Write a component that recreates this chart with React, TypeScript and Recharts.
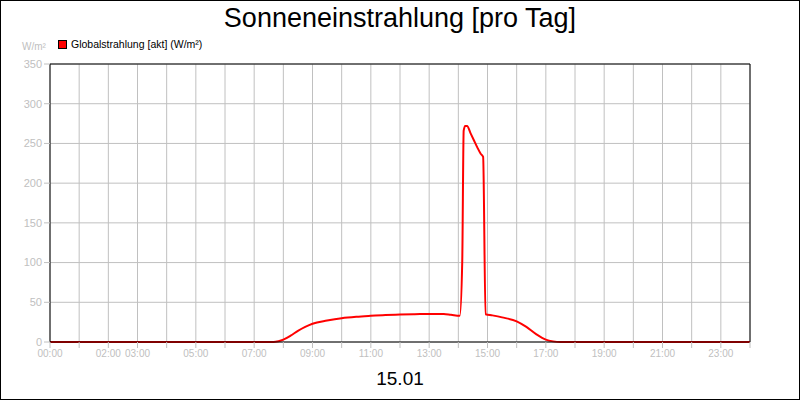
import React from "react";
import {
  LineChart,
  Line,
  XAxis,
  YAxis,
  CartesianGrid,
  ReferenceLine,
} from "recharts";

// time in minutes since 00:00
const times: number[] = [
  0, 420, 460, 470, 480, 495, 510, 525, 540, 570, 600, 630, 660, 690, 720, 750, 780,
  795, 810, 825, 843, 848, 851, 854, 858, 865, 872, 879, 886, 891, 896, 910, 930, 960,
  980, 1000, 1020, 1035, 1050, 1440,
];
const values: number[] = [
  0, 0, 0, 1, 3, 8, 14, 19, 23, 27, 30, 31.8, 33, 34, 34.6, 35, 35.3,
  35.4, 35.2, 34.2, 33, 100, 266, 272, 272, 263, 254, 245, 237, 233, 35, 33.5, 31, 26,
  19, 10, 3, 0.8, 0, 0,
];

const hourTicks: number[] = Array.from({ length: 25 }, (_, i) => i * 60);
const hourLabels: string[] = [
  "00:00", "", "02:00", "03:00", "", "05:00", "", "07:00", "", "09:00", "", "11:00", "",
  "13:00", "", "15:00", "", "17:00", "", "19:00", "", "21:00", "", "23:00", "",
];
const yTicks: number[] = [0, 50, 100, 150, 200, 250, 300, 350];

const seriesName = "Globalstrahlung [akt] (W/m²)";
const title = "Sonneneinstrahlung [pro Tag]";
const dateLabel = "15.01";
const unitLabel = "W/m²";

const data = times.map((t, i) => ({ t, v: values[i] }));

const FONT = "'Liberation Sans', Arial, sans-serif";

export default function App() {
  return (
    <div
      style={{
        position: "absolute",
        left: 0,
        top: 0,
        width: 800,
        height: 400,
        boxSizing: "border-box",
        border: "1px solid #000",
        background: "#fff",
        fontFamily: FONT,
        overflow: "hidden",
      }}
    >
      <div
        style={{
          position: "absolute",
          left: 0,
          top: -2,
          width: 798,
          textAlign: "center",
          fontSize: 27,
          lineHeight: "38px",
          color: "#000",
        }}
      >
        {title}
      </div>
      <div
        style={{
          position: "absolute",
          left: 21,
          top: 40,
          fontSize: 10,
          color: "#c0c0c0",
        }}
      >
        {unitLabel}
      </div>
      <div
        style={{
          position: "absolute",
          left: 57,
          top: 36,
          fontSize: 10.5,
          lineHeight: "14px",
          color: "#000",
          display: "flex",
          alignItems: "center",
        }}
      >
        <span
          style={{
            display: "inline-block",
            width: 7,
            height: 7,
            background: "#ff0000",
            border: "1px solid #000",
            marginRight: 4,
          }}
        />
        {seriesName}
      </div>
      <div
        style={{
          position: "absolute",
          left: 0,
          top: 366,
          width: 798,
          textAlign: "center",
          fontSize: 19,
          lineHeight: "24px",
          color: "#000",
        }}
      >
        {dateLabel}
      </div>
      <div style={{ position: "absolute", left: -1, top: -1 }}>
        <LineChart
          width={800}
          height={400}
          data={data}
          margin={{ top: 64, right: 50, left: 10, bottom: 28 }}
        >
          <CartesianGrid stroke="#c0c0c0" strokeWidth={1} horizontal vertical />
          <XAxis
            dataKey="t"
            type="number"
            domain={[0, 1440]}
            ticks={hourTicks}
            interval={0}
            tickFormatter={(v: number) => hourLabels[Math.round(v / 60)] ?? ""}
            height={30}
            stroke="#000"
            axisLine={{ stroke: "#000" }}
            tickLine={{ stroke: "#c0c0c0" }}
            tickSize={6}
            tick={{ fill: "#c0c0c0", fontSize: 10, fontFamily: FONT }}
            allowDataOverflow
          />
          <YAxis
            type="number"
            domain={[0, 350]}
            ticks={yTicks}
            interval={0}
            width={40}
            axisLine={{ stroke: "#000" }}
            tickLine={{ stroke: "#c0c0c0" }}
            tickSize={6}
            tick={{ fill: "#c0c0c0", fontSize: 11, fontFamily: FONT }}
          />
          <ReferenceLine y={350} stroke="#000" ifOverflow="visible" />
          <ReferenceLine x={1440} stroke="#000" ifOverflow="visible" />
          <Line
            type="monotone"
            dataKey="v"
            stroke="#ff0000"
            strokeWidth={2}
            dot={false}
            activeDot={false}
            isAnimationActive={false}
          />
        </LineChart>
      </div>
    </div>
  );
}
